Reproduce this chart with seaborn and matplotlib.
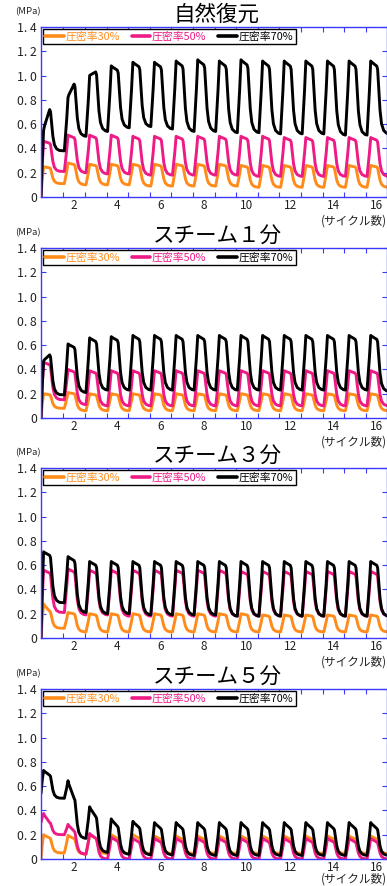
import numpy as np
import pandas as pd
import matplotlib
matplotlib.use("Agg")
import matplotlib.pyplot as plt
import seaborn as sns

sns.set_theme(style="white")
plt.rcParams["font.family"] = ["Noto Sans CJK JP", "DejaVu Sans"]

TITLES = ["自然復元", "スチーム１分", "スチーム３分", "スチーム５分"]
SERIES = ["圧密率30%", "圧密率50%", "圧密率70%"]
COLORS = ["#ff8c1a", "#ee1a85", "#000000"]
CYCLES = list(range(1, 17))
X_LEFT, X_RIGHT = 0.47, 16.45
SPINE_BLUE = "#3a3aff"

# ピーク値 / 谷値 (サイクル毎, MPa) - 図から読み取り
NAT_30_PEAK = [0.25, 0.28, 0.27, 0.27, 0.27, 0.27, 0.27, 0.27, 0.27, 0.26, 0.26, 0.26, 0.26, 0.26, 0.26, 0.26]
NAT_30_LOW = [0.11, 0.10, 0.10, 0.10, 0.09, 0.09, 0.09, 0.09, 0.09, 0.08, 0.08, 0.08, 0.08, 0.08, 0.08, 0.08]
NAT_50_PEAK = [0.46, 0.51, 0.51, 0.51, 0.50, 0.50, 0.50, 0.50, 0.50, 0.50, 0.50, 0.49, 0.49, 0.49, 0.49, 0.49]
NAT_50_LOW = [0.21, 0.20, 0.19, 0.19, 0.18, 0.18, 0.18, 0.18, 0.18, 0.17, 0.17, 0.17, 0.17, 0.17, 0.17, 0.17]
NAT_70_PEAK = [0.55, 0.82, 1.00, 1.08, 1.11, 1.11, 1.12, 1.13, 1.12, 1.13, 1.12, 1.12, 1.12, 1.12, 1.12, 1.12]
NAT_70_LOW = [0.38, 0.50, 0.54, 0.57, 0.58, 0.56, 0.54, 0.54, 0.53, 0.53, 0.52, 0.52, 0.52, 0.51, 0.51, 0.52]
NAT_70_END = [0.72, 0.93, 1.03]

S1_30_PEAK = [0.20, 0.21, 0.20, 0.20, 0.20, 0.20, 0.20, 0.20, 0.20, 0.20, 0.20, 0.20, 0.20, 0.20, 0.20, 0.20]
S1_30_LOW = [0.08, 0.06, 0.06, 0.06, 0.06, 0.06, 0.06, 0.06, 0.06, 0.06, 0.06, 0.06, 0.06, 0.06, 0.06, 0.06]
S1_50_PEAK = [0.46, 0.40, 0.39, 0.39, 0.39, 0.39, 0.39, 0.39, 0.39, 0.39, 0.39, 0.39, 0.39, 0.39, 0.39, 0.39]
S1_50_LOW = [0.15, 0.11, 0.10, 0.10, 0.10, 0.10, 0.10, 0.10, 0.10, 0.10, 0.10, 0.10, 0.10, 0.10, 0.10, 0.10]
S1_70_PEAK = [0.47, 0.61, 0.66, 0.67, 0.68, 0.68, 0.68, 0.68, 0.68, 0.68, 0.68, 0.68, 0.68, 0.68, 0.68, 0.68]
S1_70_LOW = [0.19, 0.21, 0.23, 0.23, 0.23, 0.23, 0.23, 0.23, 0.23, 0.23, 0.23, 0.23, 0.23, 0.23, 0.23, 0.22]
S1_70_END = [0.52]

S3_30_PEAK = [0.28, 0.21, 0.20, 0.20, 0.20, 0.20, 0.20, 0.20, 0.20, 0.20, 0.19, 0.19, 0.19, 0.19, 0.19, 0.19]
S3_30_LOW = [0.08, 0.05, 0.05, 0.05, 0.05, 0.05, 0.05, 0.05, 0.05, 0.05, 0.05, 0.05, 0.05, 0.05, 0.05, 0.05]
S3_30_END = [0.22]
S3_50_PEAK = [0.56, 0.57, 0.56, 0.56, 0.56, 0.56, 0.56, 0.56, 0.56, 0.55, 0.55, 0.55, 0.55, 0.55, 0.55, 0.55]
S3_50_LOW = [0.21, 0.19, 0.19, 0.18, 0.18, 0.18, 0.18, 0.18, 0.18, 0.18, 0.18, 0.18, 0.18, 0.18, 0.18, 0.18]
S3_70_PEAK = [0.71, 0.67, 0.63, 0.63, 0.63, 0.63, 0.63, 0.63, 0.63, 0.63, 0.63, 0.63, 0.63, 0.63, 0.63, 0.63]
S3_70_LOW = [0.29, 0.21, 0.20, 0.20, 0.19, 0.19, 0.19, 0.19, 0.18, 0.18, 0.18, 0.18, 0.18, 0.18, 0.18, 0.18]

S5_30_PEAK = [0.20, 0.195, 0.20, 0.20, 0.20, 0.19, 0.19, 0.19, 0.19, 0.19, 0.19, 0.19, 0.19, 0.19, 0.19, 0.19]
S5_30_LOW = [0.05, 0.04, 0.045, 0.045, 0.045, 0.045, 0.045, 0.045, 0.045, 0.045, 0.045, 0.045, 0.045, 0.045, 0.045, 0.045]
S5_50_PEAK = [0.375, 0.285, 0.21, 0.18, 0.17, 0.17, 0.17, 0.17, 0.17, 0.17, 0.17, 0.17, 0.17, 0.17, 0.17, 0.17]
S5_50_LOW = [0.20, 0.04, 0.0, 0.0, 0.0, 0.0, 0.0, 0.0, 0.0, 0.0, 0.0, 0.0, 0.0, 0.0, 0.0, 0.0]
S5_50_END = [0.30, 0.23, 0.17]
S5_70_PEAK = [0.73, 0.645, 0.43, 0.33, 0.31, 0.30, 0.30, 0.30, 0.30, 0.30, 0.30, 0.30, 0.30, 0.30, 0.30, 0.30]
S5_70_LOW = [0.50, 0.17, 0.055, 0.04, 0.035, 0.035, 0.03, 0.03, 0.03, 0.03, 0.03, 0.03, 0.03, 0.03, 0.03, 0.03]
S5_70_END = [0.69, 0.50, 0.35, 0.27]
S5_START = [0.0, 0.30, 0.54]

PANELS = [
    [(NAT_30_PEAK, NAT_30_LOW, []), (NAT_50_PEAK, NAT_50_LOW, []), (NAT_70_PEAK, NAT_70_LOW, NAT_70_END)],
    [(S1_30_PEAK, S1_30_LOW, []), (S1_50_PEAK, S1_50_LOW, []), (S1_70_PEAK, S1_70_LOW, S1_70_END)],
    [(S3_30_PEAK, S3_30_LOW, S3_30_END), (S3_50_PEAK, S3_50_LOW, []), (S3_70_PEAK, S3_70_LOW, [])],
    [(S5_30_PEAK, S5_30_LOW, []), (S5_50_PEAK, S5_50_LOW, S5_50_END), (S5_70_PEAK, S5_70_LOW, S5_70_END)],
]
STARTS = [[0.0, 0.0, 0.0], [0.0, 0.0, 0.0], [0.0, 0.0, 0.0], S5_START]
DROOP = [0.07, 0.07, 0.07, 0.18]

# 1サイクル内の波形 (立上り → 保持 → 除荷 → 谷)
PROFILE_T = [0.06, 0.12, 0.16, 0.40, 0.44, 0.55, 0.62, 0.72, 0.85]


def build_wave(peaks, lows, ends, start, droop):
    xs, ys = [X_LEFT], [start]
    prev = start
    for i, c in enumerate(CYCLES):
        s = X_LEFT if i == 0 else c - 0.4
        pk, lo = peaks[i], lows[i]
        end = ends[i] if i < len(ends) else pk - droop * (pk - lo)
        vals = [prev + 0.6 * (pk - prev), pk, pk - 0.2 * (pk - end), end,
                end - 0.05 * (end - lo), lo + 0.35 * (end - lo), lo + 0.15 * (end - lo),
                lo + 0.05 * (end - lo), lo + 0.01 * (end - lo)]
        for t, v in zip(PROFILE_T, vals):
            xs.append(s + t)
            ys.append(v)
        xs.append(c + 0.55)
        ys.append(lo)
        prev = lo
    return xs, ys


fig = plt.figure(figsize=(3.87, 8.86), dpi=100)
ax_tops = [27, 248, 468, 689]
for p, title in enumerate(TITLES):
    top = ax_tops[p]
    ax = fig.add_axes([41 / 387, 1 - (top + 170) / 886, 345.5 / 387, 170 / 886])
    rows = []
    for k, (peaks, lows, ends) in enumerate(PANELS[p]):
        xs, ys = build_wave(peaks, lows, ends, STARTS[p][k], DROOP[p])
        rows.append(pd.DataFrame({"x": xs, "y": ys, "series": SERIES[k]}))
    df = pd.concat(rows, ignore_index=True)
    sns.lineplot(data=df, x="x", y="y", hue="series", palette=dict(zip(SERIES, COLORS)),
                 sort=False, estimator=None, linewidth=2.1, ax=ax, legend=False)

    ax.set_xlim(X_LEFT, X_RIGHT)
    ax.set_ylim(0, 1.4)
    ax.set_xlabel("")
    ax.set_ylabel("")
    yt = np.round(np.arange(0, 1.41, 0.2), 1)
    ax.set_yticks(yt)
    ax.set_yticklabels(["0" if v == 0 else f"{v:.1f}".replace(".", ". ") for v in yt])
    ax.set_xticks(range(2, 17, 2))
    ax.set_xticks(np.arange(1.5, 16.5, 1), minor=True)
    ax.tick_params(axis="x", which="major", length=0, pad=1.5, labelsize=8.5, labelcolor="#222222")
    ax.tick_params(axis="x", which="minor", direction="in", length=3.5, color=SPINE_BLUE,
                   top=True, bottom=True, width=0.8)
    ax.tick_params(axis="y", which="major", direction="in", length=3.5, color=SPINE_BLUE,
                   left=True, right=True, width=0.8, pad=3, labelsize=8.8, labelcolor="#222222")
    for sp in ax.spines.values():
        sp.set_color(SPINE_BLUE)
        sp.set_linewidth(1.0)

    handles = [plt.Line2D([], [], color=c, lw=2.6) for c in COLORS]
    leg = ax.legend(handles, SERIES, loc="upper left", ncol=3, fontsize=7.8, frameon=True,
                    fancybox=False, edgecolor="black", framealpha=1, borderaxespad=0.15,
                    handlelength=1.7, handletextpad=0.15, columnspacing=1.1,
                    borderpad=0.25)
    leg.get_frame().set_linewidth(1.0)
    for txt, c in zip(leg.get_texts(), COLORS):
        txt.set_color(c)

    fig.text(217 / 387, 1 - (top - 1) / 886, title, ha="center", va="bottom",
             fontsize=15.5, color="black")
    ax.text(-0.038, 1.09, "(MPa)", transform=ax.transAxes, ha="center", va="center",
            fontsize=6.8, color="#222222")
    cy = -0.14 if p < 3 else -0.12
    ax.text(1.0, cy, "(サイクル数)", transform=ax.transAxes, ha="right", va="center",
            fontsize=8.4, color="#222222")

fig.savefig("out.png", dpi=100)
